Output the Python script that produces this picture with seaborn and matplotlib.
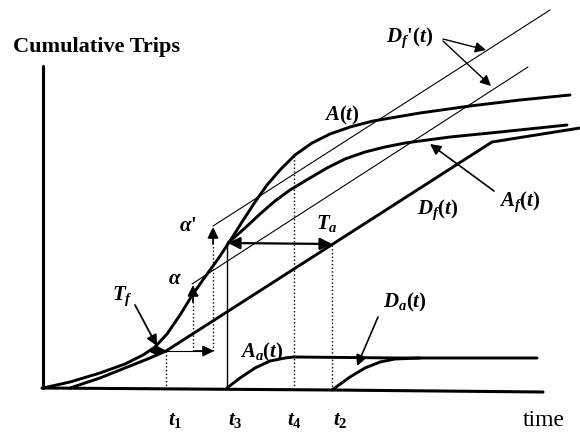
import matplotlib
matplotlib.use("Agg")
import matplotlib.pyplot as plt
import seaborn as sns
import pandas as pd

sns.set_theme(style="white")
plt.rcParams["font.family"] = ["Liberation Serif", "DejaVu Serif"]
plt.rcParams["text.color"] = "black"
plt.rcParams["mathtext.fontset"] = "custom"
plt.rcParams["mathtext.it"] = "Liberation Serif:italic:bold"
plt.rcParams["mathtext.rm"] = "Liberation Serif:bold"
plt.rcParams["mathtext.bf"] = "Liberation Serif:bold"

# Schematic curves in drawing units (x = time, y grows downward on canvas)
a_x = [43, 70, 100, 125, 143, 155, 167, 180, 193, 205, 218, 230, 242, 255, 267,
       280, 295, 312, 330, 350, 373, 420, 470, 520, 570]
a_y = [388, 382, 373, 364, 355, 347, 334, 315, 294, 277, 259, 241, 222, 202, 185,
       170, 155, 143, 134, 127, 121, 113, 106, 100, 95]

af_x = [228, 245, 260, 275, 290, 310, 327, 345, 365, 385, 405, 450, 500, 567]
af_y = [243, 228, 214, 201, 190, 178, 168, 159, 152, 147, 143, 137, 132, 125]

df_x = [70, 100, 130, 150, 166, 492, 580]
df_y = [388, 378, 366, 358, 351, 142, 128]

dfp1_x = [213, 550]
dfp1_y = [226, 10]
dfp2_x = [192, 528]
dfp2_y = [284, 67]

aa_x = [227, 240, 255, 270, 285, 294, 400, 537]
aa_y = [388, 378, 368, 361, 358, 357, 358, 358]

da_x = [332, 350, 365, 380, 395, 420]
da_y = [390, 377, 368, 362, 359, 358]

# Time markers
t_names = ["t_1", "t_3", "t_4", "t_2"]
t_pos = [166, 227, 294, 332]
t_top = [351, 243, 156, 245]
t_label_x = [175, 235, 294, 340]

fig = plt.figure(figsize=(5.8, 4.33), dpi=100)
ax = fig.add_axes([0, 0, 1, 1])
ax.set_xlim(0, 580)
ax.set_ylim(433, 0)
ax.axis("off")

K = "black"
THICK = 2.1
THIN = 0.8


def line(xs, ys, lw=THICK, ls="-"):
    df = pd.DataFrame({"x": xs, "y": ys})
    sns.lineplot(data=df, x="x", y="y", ax=ax, color=K, lw=lw, ls=ls,
                 sort=False, estimator=None, legend=False)


def arrow(x0, y0, x1, y1, style="-|>", lw=1.3, scale=16):
    ax.annotate("", xy=(x1, y1), xytext=(x0, y0),
                arrowprops=dict(arrowstyle=style, color=K, lw=lw,
                                mutation_scale=scale, shrinkA=0, shrinkB=0))


# Axes of the diagram
line([43, 43], [66, 388], lw=2.2)
line([42, 332, 543], [388, 390, 392], lw=2.2)

# Main curves
line(a_x, a_y)
line(af_x, af_y)
line(df_x, df_y)
line(aa_x, aa_y)
line(da_x, da_y)
line(dfp1_x, dfp1_y, lw=THIN)
line(dfp2_x, dfp2_y, lw=THIN)

# Vertical guides at the marked times
for x, top in zip(t_pos, t_top):
    ls = "-" if x == 227 else ":"
    line([x, x], [top, 388], lw=1.0, ls=ls)

# Construction from t1 to alpha and alpha'
line([167, 205], [351, 351], lw=THIN)
arrow(195, 351, 214, 351, scale=16)
line([193, 193], [351, 300], lw=1.0, ls=":")
arrow(193, 302, 193, 285, scale=16)
line([213, 213], [351, 245], lw=1.0, ls=":")
arrow(213, 244, 213, 227, scale=16)

# Travel time arrows
arrow(148, 351, 167, 351, style="<|-|>", scale=14)
arrow(228, 243, 332, 244, style="<|-|>", lw=1.6, scale=18)

# Label pointers
arrow(135, 305, 157, 346)
arrow(443, 39, 486, 50, lw=1.0)
arrow(443, 41, 491, 86, lw=1.0)
arrow(494, 191, 430, 144, lw=1.2)
arrow(378, 317, 357, 366, lw=1.2)

# Text
ax.text(13, 47, "Cumulative Trips", fontsize=16, fontweight="bold",
        ha="left", va="center")
ax.text(544, 421, "time", fontsize=17, ha="center", va="center")
for name, x in zip(t_names, t_label_x):
    ax.text(x, 420, f"${name}$", fontsize=15, ha="center", va="center")

labels = [
    (410, 38, r"$D_f$'$(t)$"),
    (342, 115, r"$A(t)$"),
    (520, 202, r"$A_f(t)$"),
    (438, 210, r"$D_f(t)$"),
    (327, 224, r"$T_a$"),
    (188, 226, r"$\alpha$'"),
    (175, 279, r"$\alpha$"),
    (122, 296, r"$T_f$"),
    (262, 352, r"$A_a(t)$"),
    (405, 302, r"$D_a(t)$"),
]
for x, y, s in labels:
    ax.text(x, y, s, fontsize=15, fontweight="bold", ha="center", va="center")

fig.savefig("out.png", dpi=100)
